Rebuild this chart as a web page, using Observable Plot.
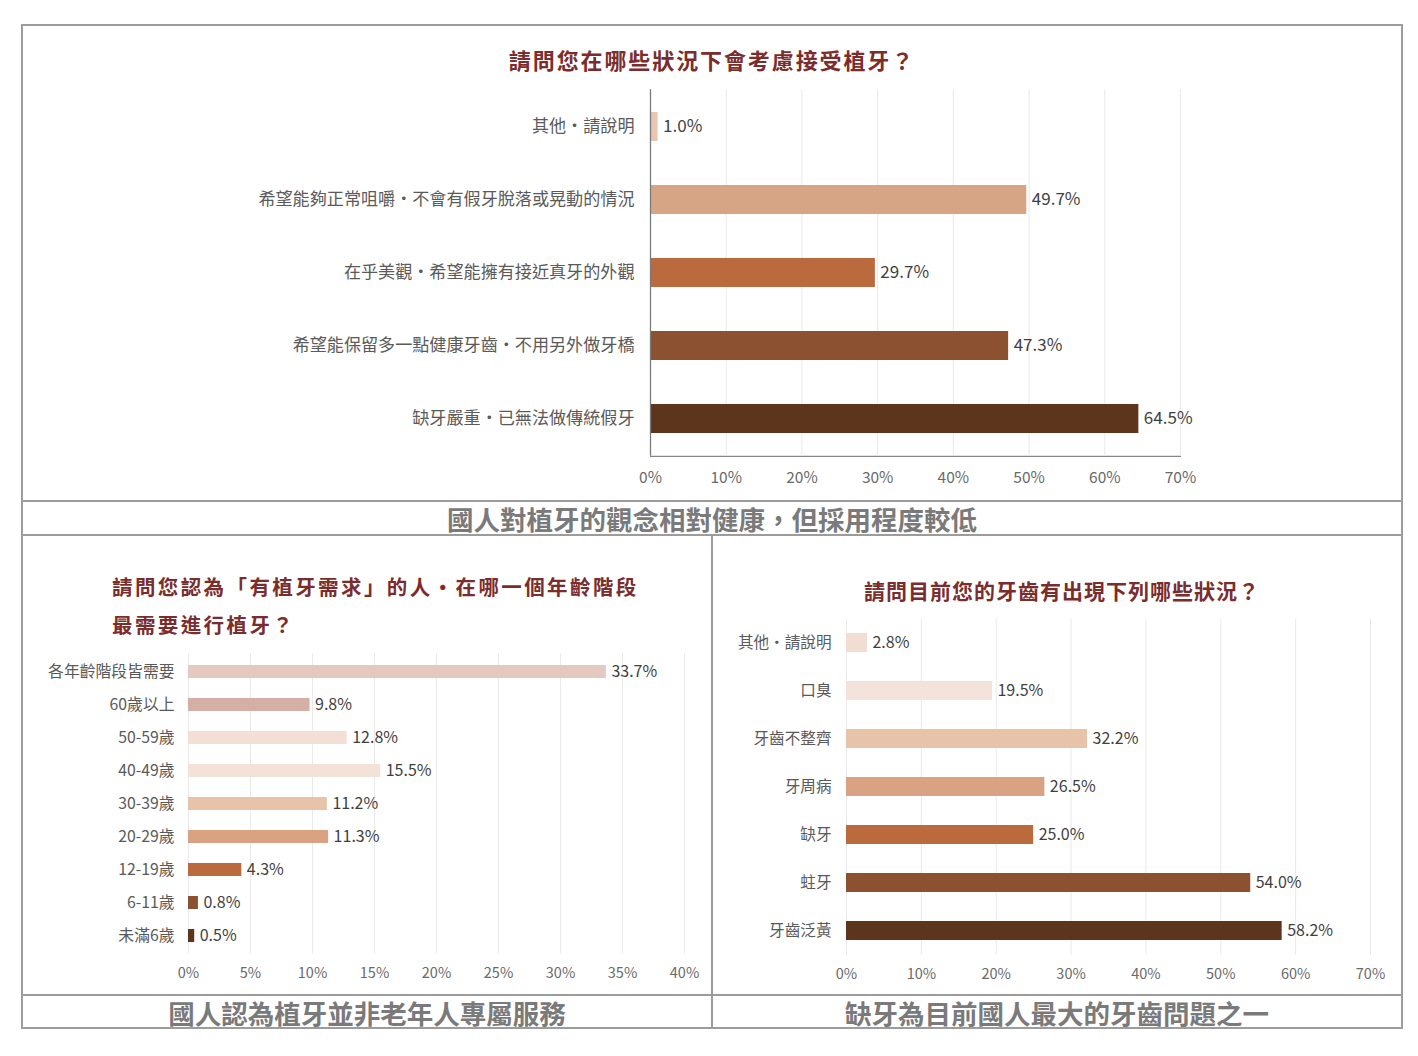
<!DOCTYPE html>
<html><head><meta charset="utf-8">
<script src="https://cdn.jsdelivr.net/npm/d3@7"></script>
<script src="https://cdn.jsdelivr.net/npm/@observablehq/plot@0.6"></script>
<style>
body{margin:0;background:#fff;font-family:"Noto Sans CJK TC","Noto Sans",sans-serif;}
#root{position:relative;width:1418px;height:1056px;overflow:hidden;background:#fff;}
.hl{position:absolute;height:2px;background:#9c9c9c;z-index:5;}
.vl{position:absolute;width:2px;background:#9c9c9c;z-index:5;}
.title{position:absolute;color:#7b2d2d;font-weight:bold;line-height:1;white-space:nowrap;}
.cap{position:absolute;color:#7a7a7a;font-weight:bold;font-size:26.5px;line-height:1;white-space:nowrap;transform:translateX(-50%);}
svg.chart{position:absolute;overflow:visible;}
</style></head>
<body>
<div id="root">
  <div class="hl" style="left:21px;top:24px;width:1382px"></div>
  <div class="hl" style="left:21px;top:500px;width:1382px"></div>
  <div class="hl" style="left:21px;top:534px;width:1382px"></div>
  <div class="hl" style="left:21px;top:994px;width:1382px"></div>
  <div class="hl" style="left:21px;top:1027px;width:1382px"></div>
  <div class="vl" style="left:21px;top:24px;height:1005px"></div>
  <div class="vl" style="left:1401px;top:24px;height:1005px"></div>
  <div class="vl" style="left:711px;top:534px;height:495px"></div>

  <div class="title" style="left:712px;top:48px;font-size:22px;letter-spacing:1.9px;transform:translateX(-50%);">請問您在哪些狀況下會考慮接受植牙？</div>
  <div class="title" style="left:112px;top:576px;font-size:20.5px;letter-spacing:2.4px;">請問您認為「有植牙需求」的人・在哪一個年齡階段</div>
  <div class="title" style="left:112px;top:614px;font-size:20.5px;letter-spacing:2.4px;">最需要進行植牙？</div>
  <div class="title" style="left:1062px;top:580px;font-size:21px;letter-spacing:1px;transform:translateX(-50%);">請問目前您的牙齒有出現下列哪些狀況？</div>

  <div class="cap" style="left:712px;top:506px;">國人對植牙的觀念相對健康，但採用程度較低</div>
  <div class="cap" style="left:367px;top:1000px;">國人認為植牙並非老年人專屬服務</div>
  <div class="cap" style="left:1057px;top:1000px;">缺牙為目前國人最大的牙齒問題之一</div>
</div>
<script>
// ---- Chart 1: 請問您在哪些狀況下會考慮接受植牙？
const q1Categories = ["其他・請說明", "希望能夠正常咀嚼・不會有假牙脫落或晃動的情況", "在乎美觀・希望能擁有接近真牙的外觀", "希望能保留多一點健康牙齒・不用另外做牙橋", "缺牙嚴重・已無法做傳統假牙"];
const q1Values = [1.0, 49.7, 29.7, 47.3, 64.5];
const q1Colors = ["#e9c6b1", "#d6a586", "#bb6a3e", "#8b5130", "#5d351d"];
const q1Ticks = [0, 10, 20, 30, 40, 50, 60, 70];

// ---- Chart 2: 年齡階段
const q2Categories = ["各年齡階段皆需要", "60歲以上", "50-59歲", "40-49歲", "30-39歲", "20-29歲", "12-19歲", "6-11歲", "未滿6歲"];
const q2Values = [33.7, 9.8, 12.8, 15.5, 11.2, 11.3, 4.3, 0.8, 0.5];
const q2Colors = ["#e4c9c0", "#d5afa5", "#f3dfd3", "#f4e2d9", "#e7c3a9", "#d9a283", "#bb6a3e", "#8b5130", "#5d351d"];
const q2Ticks = [0, 5, 10, 15, 20, 25, 30, 35, 40];

// ---- Chart 3: 牙齒狀況
const q3Categories = ["其他・請說明", "口臭", "牙齒不整齊", "牙周病", "缺牙", "蛀牙", "牙齒泛黃"];
const q3Values = [2.8, 19.5, 32.2, 26.5, 25.0, 54.0, 58.2];
const q3Colors = ["#f2ddd2", "#f4e3da", "#e7c3a9", "#d9a283", "#bb6a3e", "#8b5130", "#5d351d"];
const q3Ticks = [0, 10, 20, 30, 40, 50, 60, 70];

const FONT = '"Noto Sans CJK TC","Noto Sans",sans-serif';

function barChart(o) {
  const data = o.cats.map((c, i) => ({cat: c, v: o.vals[i], color: o.colors[i]}));
  const marks = [
    Plot.gridX(o.ticks, {stroke: "#e9e9e9", strokeOpacity: 1}),
    Plot.barX(data, {x: "v", y: "cat", fill: "color"}),
    Plot.text(data, {x: "v", y: "cat", text: d => d.v.toFixed(1) + "%", textAnchor: "start", dx: 5, fill: "#3f3f3f", fontSize: o.valueSize}),
    Plot.axisY({tickSize: 0, tickPadding: o.yPad, fontSize: o.labelSize, fill: "#5a5a5a", label: null})
  ];
  if (o.axisLines) marks.push(Plot.ruleX([0], {stroke: "#7a7a7a", strokeWidth: 1.3}));
  const svg = Plot.plot({
    width: o.width, height: o.height,
    marginLeft: o.ml, marginRight: o.mr, marginTop: o.mt, marginBottom: o.mb,
    style: {fontFamily: FONT, fontSize: o.tickFont + "px", color: "#6a6a6a", background: "transparent", overflow: "visible"},
    x: {domain: [0, o.ticks[o.ticks.length - 1]], ticks: o.ticks, tickFormat: d => d + "%", tickSize: 0, tickPadding: o.xPad, line: !!o.axisLines, label: null},
    y: {domain: o.cats, paddingInner: 0.6, paddingOuter: 0.3, label: null},
    marks
  });
  svg.classList.add("chart");
  svg.style.left = o.left + "px";
  svg.style.top = o.top + "px";
  document.getElementById("root").appendChild(svg);
}

barChart({cats: q1Categories, vals: q1Values, colors: q1Colors, ticks: q1Ticks,
  left: 0, top: 80, width: 1418, height: 420, ml: 650, mr: 238, mt: 9.3, mb: 44.2,
  yPad: 16, xPad: 16, labelSize: 17.1, valueSize: 17, tickFont: 15.5, axisLines: true});

barChart({cats: q2Categories, vals: q2Values, colors: q2Colors, ticks: q2Ticks,
  left: 22, top: 640, width: 690, height: 355, ml: 166, mr: 28, mt: 13.3, mb: 41.3,
  yPad: 14, xPad: 14, labelSize: 15.8, valueSize: 16, tickFont: 14.5, axisLines: false});

barChart({cats: q3Categories, vals: q3Values, colors: q3Colors, ticks: q3Ticks,
  left: 712, top: 605, width: 690, height: 390, ml: 134, mr: 32, mt: 14, mb: 40,
  yPad: 15, xPad: 13, labelSize: 15.6, valueSize: 16, tickFont: 14.5, axisLines: false});
</script>
</body></html>
